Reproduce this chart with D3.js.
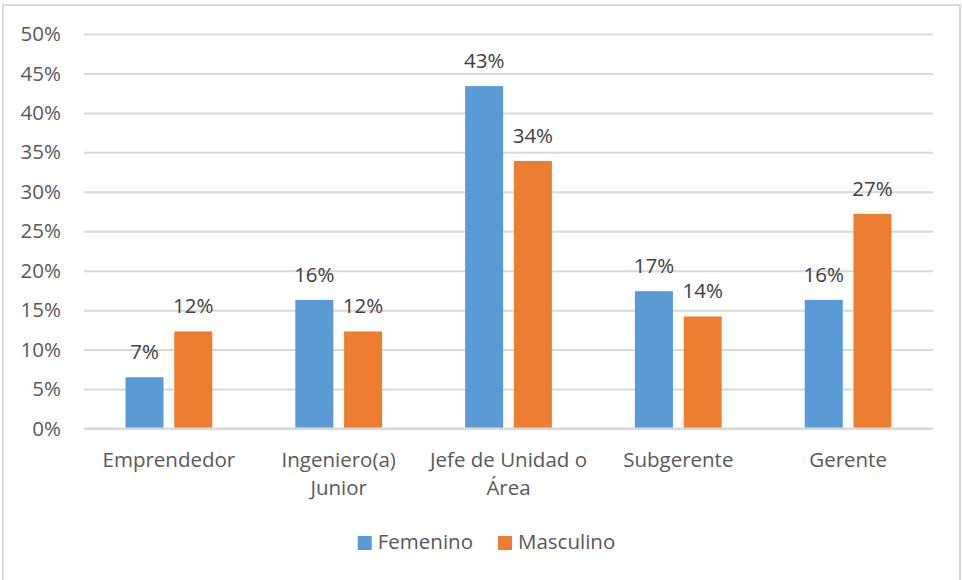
<!DOCTYPE html>
<html>
<head>
<meta charset="utf-8">
<script src="https://cdn.jsdelivr.net/npm/d3@7"></script>
<style>
    body { margin: 0; background: #fff; }
    text { font-family: "Open Sans", sans-serif; }
</style>
</head>
<body>
<script>
// datos del grafico
const categories = ["Emprendedor", "Ingeniero(a) Junior", "Jefe de Unidad o Área", "Subgerente", "Gerente"];
const series = ["Femenino", "Masculino"];
const femenino = [0.065, 0.163, 0.434, 0.174, 0.163];
const masculino = [0.123, 0.123, 0.339, 0.142, 0.272];
const yTicks = [0, 0.05, 0.10, 0.15, 0.20, 0.25, 0.30, 0.35, 0.40, 0.45, 0.50];
const colors = ["#5b9bd5", "#ed7d31"];

const width = 962, height = 580;
const plot = { left: 84, right: 933, top: 34, bottom: 428.5 };

const svg = d3.select("body").append("svg").attr("width", width).attr("height", height);

// marco del grafico
svg.append("rect")
    .attr("x", 3).attr("y", 5).attr("width", 957).attr("height", 580)
    .attr("fill", "#fff").attr("stroke", "#d9d9d9").attr("stroke-width", 2);

const x0 = d3.scaleBand().domain(categories).range([plot.left, plot.right])
    .paddingInner(0.489).paddingOuter(0.2445);
const x1 = d3.scaleBand().domain(series).range([0, x0.bandwidth()]).paddingInner(0.22);
const y = d3.scaleLinear().domain([0, 0.5]).range([plot.bottom, plot.top]);
const pct = d3.format(".0%");

// eje y y lineas de division
const yAxis = svg.append("g").attr("transform", "translate(" + plot.left + ",0)")
    .call(d3.axisLeft(y).tickValues(yTicks).tickFormat(pct)
        .tickSize(-(plot.right - plot.left)).tickPadding(23));
yAxis.select(".domain").remove();
yAxis.selectAll("line").attr("stroke", "#d9d9d9").attr("stroke-width", 2);
yAxis.selectAll("text").attr("fill", "#595959").style("font-size", "20.5px");

// barras
const rows = categories.map((c, i) => ({ cat: c, values: [femenino[i], masculino[i]] }));
const groups = svg.selectAll(".grp").data(rows).enter().append("g")
    .attr("class", "grp")
    .attr("transform", d => "translate(" + x0(d.cat) + ",0)");

groups.selectAll("rect").data(d => d.values.map((v, j) => ({ s: series[j], v: v, j: j })))
    .enter().append("rect")
    .attr("x", d => x1(d.s))
    .attr("y", d => y(d.v))
    .attr("width", x1.bandwidth())
    .attr("height", d => y(0) - y(d.v))
    .attr("fill", d => colors[d.j]);

groups.selectAll(".lbl").data(d => d.values.map((v, j) => ({ s: series[j], v: v })))
    .enter().append("text")
    .attr("class", "lbl")
    .attr("x", d => x1(d.s) + x1.bandwidth() / 2)
    .attr("y", d => y(d.v) - 18)
    .attr("text-anchor", "middle")
    .attr("fill", "#404040")
    .style("font-size", "20.5px")
    .text(d => pct(d.v));

// eje x
svg.append("line")
    .attr("x1", plot.left).attr("x2", plot.right)
    .attr("y1", y(0)).attr("y2", y(0))
    .attr("stroke", "#d9d9d9").attr("stroke-width", 2);

const catLabels = svg.selectAll(".cat").data(categories).enter().append("text")
    .attr("class", "cat")
    .attr("x", d => x0(d) + x0.bandwidth() / 2)
    .attr("y", 467)
    .attr("text-anchor", "middle")
    .attr("fill", "#595959")
    .style("font-size", "20.5px");

// ajuste de texto en varias lineas
catLabels.each(function (d) {
    const el = d3.select(this);
    const words = d.split(" ");
    const maxW = x0.step();
    let line = [];
    let n = 0;
    let tspan = el.append("tspan").attr("x", el.attr("x")).attr("dy", 0);
    words.forEach(w => {
        line.push(w);
        tspan.text(line.join(" "));
        if (tspan.node().getComputedTextLength() > maxW && line.length > 1) {
            line.pop();
            tspan.text(line.join(" "));
            line = [w];
            n++;
            tspan = el.append("tspan").attr("x", el.attr("x")).attr("dy", 28).text(w);
        }
    });
});

// leyenda
const legend = svg.append("g");
let lx = 0;
series.forEach((s, i) => {
    const g = legend.append("g").attr("transform", "translate(" + lx + ",0)");
    g.append("rect").attr("x", 0).attr("y", -13).attr("width", 14).attr("height", 14).attr("fill", colors[i]);
    const t = g.append("text").attr("x", 20).attr("y", 0)
        .attr("fill", "#595959").style("font-size", "20.5px").text(s);
    lx += 20 + t.node().getComputedTextLength() + 25;
});
const lw = lx - 25;
legend.attr("transform", "translate(" + (486.5 - lw / 2) + ",549)");
</script>
</body>
</html>
